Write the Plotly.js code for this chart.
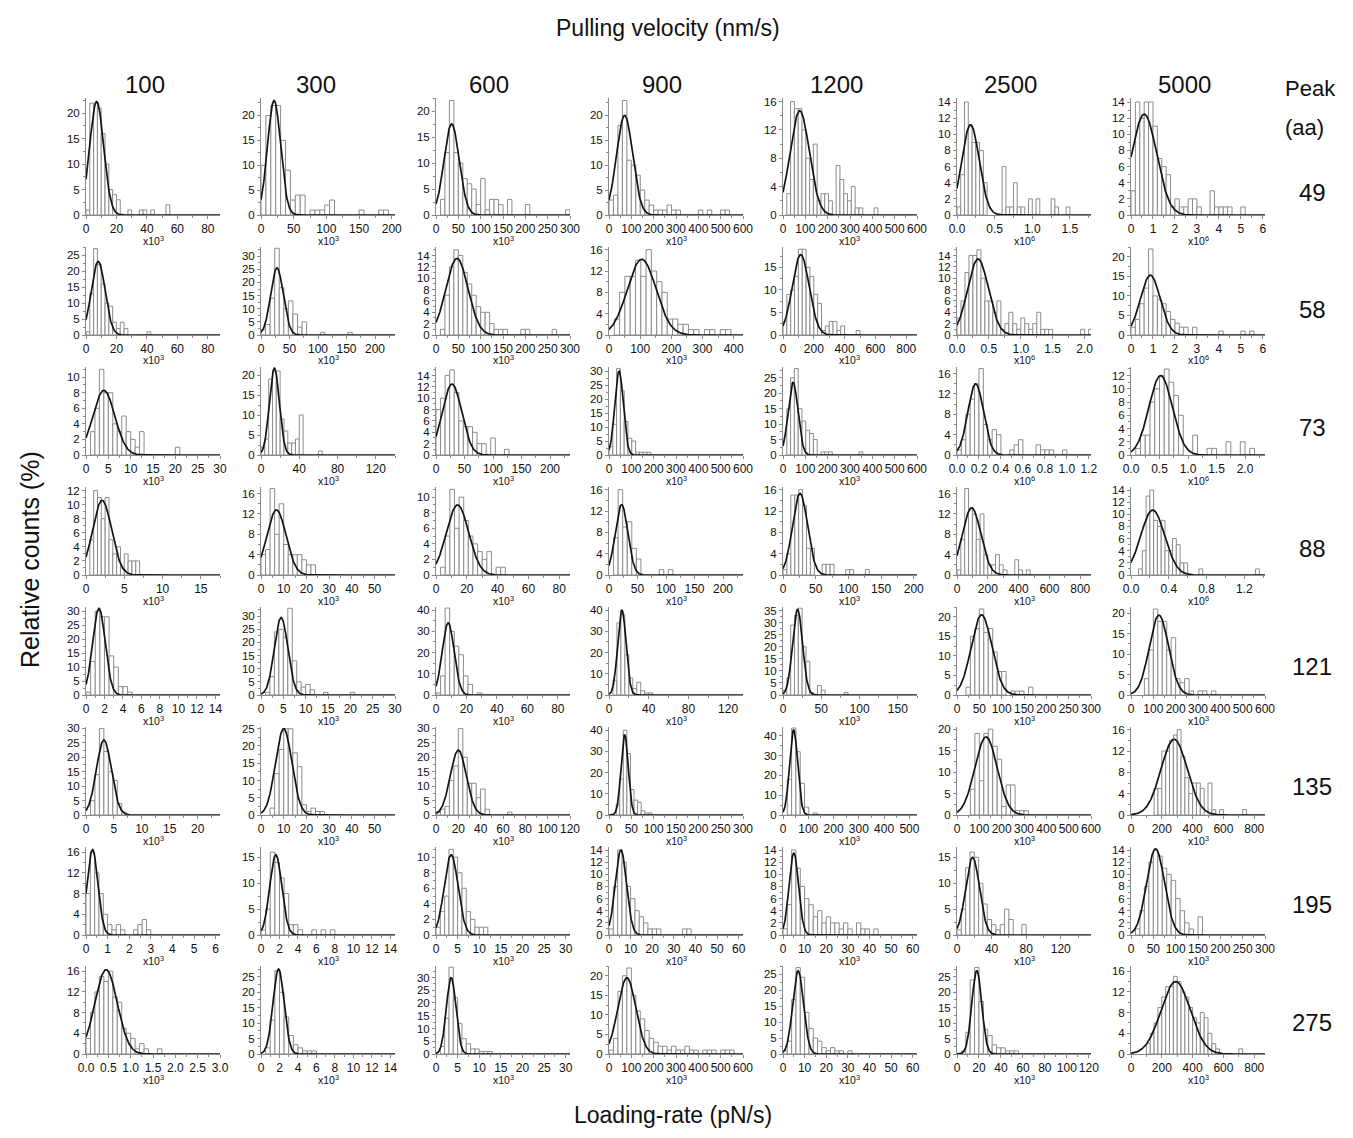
<!DOCTYPE html>
<html><head><meta charset="utf-8">
<script src="https://cdn.plot.ly/plotly-3.0.1.min.js"></script>
<style>html,body{margin:0;padding:0;background:#fff}#chart{width:1353px;height:1138px}</style>
</head><body><div id="chart"></div>
<script>
// ---------------- DATA ----------------
const velocities = ['100','300','600','900','1200','2500','5000'];
const peaks = ['49','58','73','88','121','135','195','275'];

// Histogram counts (relative counts %), bins start at 0, one array per panel, rows = peaks
const counts49 = [
  [1,22,22,21,16,10,5,4,3,0,0,1,0,0,1,1,0,1,0,0,0,2],
  [10,20,22,22,15,9,3,4,4,0,1,1,1,2,3,0,0,0,0,0,1,0,0,0,1,1],
  [0,3,12,22,12,10,7,6,5,2,7,1,3,3,2,0,3,0,0,0,2,0,0,0,0,0,0,0,0,1],
  [3,4,18,23,11,10,8,5,3,2,1,1,1,2,1,1,0,0,0,0,1,0,1,0,0,1,1],
  [0,3,16,15,15,12,8,5,10,2,3,3,2,0,7,5,3,2,4,1,1,0,0,0,1],
  [1,5,14,11,9,9,8,4,0,0,0,0,6,1,1,4,1,1,0,2,0,2,0,0,0,2,1,0,0,1],
  [3,14,12,14,14,11,7,6,5,1,2,1,1,2,2,1,0,0,3,1,1,1,1,0,0,1]
];
const counts58 = [
  [1,13,27,22,16,10,9,4,2,4,2,0,0,0,0,0,1],
  [2,4,14,33,18,10,13,8,3,5,0,0,0,1,0,0,0,0,0,1],
  [0,1,7,12,15,14,11,9,7,5,4,4,2,1,1,1,0,0,0,1,1,0,0,0,0,0,1],
  [0,3,8,11,11,14,11,16,12,10,8,3,3,2,2,1,1,0,1,1,0,1,1],
  [3,9,10,13,19,19,15,13,9,7,1,2,3,3,1,2,0,0,0,1],
  [3,6,11,14,14,15,10,6,6,4,6,1,2,4,2,1,3,2,1,2,4,1,1,1,0,0,0,0,0,0,0,1,0,1],
  [2,4,8,12,22,10,9,8,6,4,3,2,2,0,2,0,0,0,0,0,1,0,0,0,0,1,0,1]
];
const counts73 = [
  [0,3,6,11,8,8,4,3,5,3,2,1,3,0,0,0,0,0,0,0,1],
  [2,4,19,21,21,9,6,3,3,4,10,0,0,0,0,1],
  [8,10,14,15,11,6,5,5,4,2,2,0,3,0,0,1],
  [3,11,31,23,12,6,5,1,1,1,1],
  [0,15,25,28,15,11,8,7,5,0,1,1,1,0,0,0,0,0,0,0,1],
  [1,3,8,11,14,17,6,3,5,4,0,0,1,2,3,0,0,0,2,1,1,1,0,0,1],
  [0,1,3,3,8,10,12,13,11,9,6,0,0,3,0,0,1,1,0,0,2,0,0,2,0,1]
];
const counts88 = [
  [0,5,12,11,8,11,5,3,4,1,3,2,2,2],
  [4,5,17,8,14,6,4,4,4,3,2,2],
  [0,1,5,11,6,10,7,5,4,3,2,3,0,1,1],
  [0,7,16,9,10,5,3,0,0,0,0,1,0,1],
  [1,4,15,15,16,13,5,5,0,0,2,2,2,0,0,0,1,1,0,0,0,1],
  [1,7,17,13,12,7,12,4,2,2,4,2,1,0,0,3,1,0,1],
  [0,0,1,4,13,14,9,8,9,4,4,6,5,2,2,0,0,0,1,0,0,0,0,0,0,0,0,0,0,0,0,0,0,1]
];
const counts121 = [
  [1,12,30,28,28,14,10,3,3,1],
  [0,1,7,24,25,22,33,13,5,3,4,2,0,0,1,0,0,0,0,0,1],
  [1,9,41,30,23,19,9,5,0,1],
  [0,7,34,38,19,8,3,6,2,1,1],
  [2,7,29,33,36,20,14,1,0,4,2,0,0,0,0,0,1],
  [0,0,2,15,17,22,16,17,11,6,6,0,1,1,1,0,2],
  [0,0,0,4,11,21,18,18,11,14,4,3,4,1,0,1,1,0,1]
];
const counts135 = [
  [0,5,14,30,22,15,12,4,1],
  [0,0,2,12,19,25,25,18,14,3,1,2,1,1],
  [1,2,3,12,17,30,20,11,11,6,9,2,0,0,0,0,1],
  [0,0,5,17,40,29,12,7,6,2,1,1],
  [0,18,44,32,16,4,0,1],
  [0,0,0,6,19,8,19,20,16,13,2,7,7,1,1,1],
  [0,0,0,0,0,0,5,5,12,12,14,15,16,11,7,4,6,6,5,0,6,1,0,1,0,0,0,0,0,1]
];
const counts195 = [
  [8,16,12,8,4,2,1,2,1,0,0,1,2,3,1],
  [1,5,16,14,11,8,2,2,1,0,0,1,0,1,0,1],
  [1,3,5,11,10,8,6,3,2,1,1,1],
  [1,8,14,12,8,6,4,3,2,1,1,1,0,0,0,0,0,1,1],
  [1,5,14,11,8,6,5,3,4,2,3,2,2,1,2,1,0,2,1,1,0,1],
  [1,5,13,16,15,10,6,3,2,1,2,5,3,0,0,2],
  [0,1,4,8,12,14,13,11,10,9,6,4,2,1,0,3]
];
const counts275 = [
  [3,8,12,15,14,16,11,10,5,4,3,1,2,1,0,0,1],
  [0,2,11,27,20,12,6,3,2,1,1,1],
  [0,3,14,34,22,12,6,4,2,2,1,1,1],
  [1,4,16,20,22,15,11,9,6,4,3,2,2,1,2,1,1,2,1,1,0,1,1,1,0,1,1,1],
  [1,4,17,27,24,13,8,5,4,2,1,2,1,1,0,1],
  [0,1,7,24,28,17,8,6,3,2,2,1,1,1],
  [0,0,0,0,2,4,6,9,11,13,13,15,14,12,11,9,7,6,8,7,4,2,1,0,0,0,0,0,1]
];
const allCounts = [counts49, counts58, counts73, counts88, counts121, counts135, counts195, counts275];

// Bin widths (in axis units)
const binWidth = [
  [2.5, 7.5, 10, 20, 17, 0.05, 0.2],
  [2.5, 8, 10, 17, 25, 0.0625, 0.2],
  [1, 4, 8, 17, 17, 0.04, 0.08333],
  [0.5, 2, 3, 8, 6, 25, 0.04],
  [0.5, 1, 3, 4, 5, 10, 20],
  [0.8, 2, 4, 8, 17, 20, 25],
  [0.2, 0.5, 1, 2, 2, 5, 10],
  [0.1, 0.5, 1, 20, 2, 4, 25]
];
// Axis extents and tick steps
const xMax = [
  [88, 205, 300, 600, 600, 1.78, 6.1],
  [88, 235, 300, 430, 870, 2.1, 6.1],
  [30, 140, 235, 600, 600, 1.22, 2.35],
  [17.5, 59, 87, 235, 205, 870, 1.42],
  [14.5, 30, 88, 135, 175, 300, 600],
  [24, 59, 120, 300, 530, 600, 870],
  [6.2, 14.5, 31, 62, 62, 155, 300],
  [3.0, 14.5, 31, 600, 62, 122, 870]
];
const xStep = [
  [20, 50, 50, 100, 100, 0.5, 1],
  [20, 50, 50, 100, 200, 0.5, 1],
  [5, 40, 50, 100, 100, 0.2, 0.5],
  [5, 10, 20, 50, 50, 200, 0.4],
  [2, 5, 20, 40, 50, 50, 100],
  [5, 10, 20, 50, 100, 100, 200],
  [1, 2, 5, 10, 10, 40, 50],
  [0.5, 2, 5, 100, 10, 20, 200]
];
const yMax = [
  [23, 23.5, 22.5, 23.5, 16.5, 14.5, 14.5],
  [27.5, 33.5, 15.5, 16.5, 19.5, 15.5, 22.5],
  [11.3, 22, 15.5, 31.5, 28.5, 17.3, 13.3],
  [12.5, 17.3, 11.3, 16.5, 16.5, 17.3, 14.5],
  [31.5, 33.5, 41.5, 41.5, 36.5, 22.5, 21.5],
  [30.5, 25.5, 30.5, 41.5, 44.5, 20.5, 16.5],
  [17, 17, 11.3, 14.5, 14.5, 17, 14.5],
  [17, 28.5, 34.5, 22.5, 27.5, 28.5, 17]
];
const yStep = [
  [5, 5, 5, 5, 4, 2, 2],
  [5, 5, 2, 4, 5, 2, 5],
  [2, 5, 2, 5, 5, 4, 2],
  [2, 4, 2, 4, 4, 4, 2],
  [5, 5, 10, 10, 5, 5, 5],
  [5, 5, 5, 10, 10, 5, 4],
  [4, 5, 2, 2, 2, 5, 2],
  [4, 5, 5, 5, 5, 5, 4]
];
// Scale exponent of loading-rate axis (x10^n)
const unitExp = [
  [3, 3, 3, 3, 3, 6, 6],
  [3, 3, 3, 3, 3, 6, 6],
  [3, 3, 3, 3, 3, 6, 6],
  [3, 3, 3, 3, 3, 3, 6],
  [3, 3, 3, 3, 3, 3, 3],
  [3, 3, 3, 3, 3, 3, 3],
  [3, 3, 3, 3, 3, 3, 3],
  [3, 3, 3, 3, 3, 3, 3]
];
// Gaussian fit parameters: amplitude, mean, sigma
const fitAmp = [
  [22.3, 23, 17.5, 20, 14.7, 11.2, 12.5],
  [23, 25.5, 13.5, 14.2, 17.8, 13.4, 15.3],
  [8.3, 21.7, 12.5, 30, 23.5, 14, 12],
  [10.6, 12.8, 9, 13.2, 15.3, 13.2, 10.7],
  [31, 29.5, 34, 40, 35.5, 20.5, 19.5],
  [26, 25, 22.5, 38, 43, 18.2, 14.2],
  [16.5, 15.5, 10.3, 14, 13.5, 15, 14.2],
  [16.3, 27.5, 30, 19.5, 26, 27, 14]
];
const fitMean = [
  [7, 20, 35, 70, 75, 0.18, 0.6],
  [8, 28, 47, 105, 115, 0.33, 0.88],
  [4, 14, 28, 45, 45, 0.17, 0.52],
  [2.1, 6.8, 14, 22, 26, 95, 0.23],
  [1.4, 4.5, 8, 13, 19, 55, 125],
  [3.2, 10, 20, 35, 42, 130, 280],
  [0.3, 1.6, 3.5, 5.5, 5, 18, 55],
  [0.45, 1.9, 3.5, 80, 7, 18, 290]
];
const fitSigma = [
  [4.6, 10, 17, 36, 43, 0.115, 0.57],
  [4.5, 11, 24.7, 46, 55, 0.163, 0.45],
  [2.45, 5.2, 17, 19, 22, 0.071, 0.205],
  [1.24, 4.2, 7.25, 11, 11.5, 60, 0.127],
  [0.68, 1.5, 3.9, 4.2, 6.5, 23, 43],
  [1.34, 3.6, 7.2, 8, 16, 50, 85],
  [0.25, 0.65, 1.6, 2.6, 2.2, 8, 20],
  [0.25, 0.6, 1.1, 40, 2.5, 4.5, 95]
];

// ---------------- LAYOUT GEOMETRY ----------------
const W = 1353, H = 1138;
const colLeft = [86, 261, 436, 609, 783, 957, 1131];
const plotW = 134;
const rowBase = [215, 335, 455, 575, 695, 815, 935, 1054];
const rowTop  = [98, 247, 367, 487, 607, 727, 847, 966];
const FONT = 'Liberation Sans, Arial, Helvetica, sans-serif';
const AX = '#8a8a8a';

const traces = [];
const layout = {
  width: W, height: H,
  margin: {l: 0, r: 0, t: 0, b: 0},
  paper_bgcolor: '#fff', plot_bgcolor: '#fff',
  showlegend: false,
  barmode: 'overlay', bargap: 0,
  font: {family: FONT, color: '#111'},
  annotations: []
};

for (let r = 0; r < 8; r++) {
  for (let c = 0; c < 7; c++) {
    const n = r * 7 + c + 1;
    const xa = n === 1 ? 'x' : 'x' + n;
    const ya = n === 1 ? 'y' : 'y' + n;
    const bw = binWidth[r][c];
    const cnt = allCounts[r][c];
    const bx = [], by = [];
    cnt.forEach((v, i) => { if (v > 0) { bx.push((i + 0.5) * bw); by.push(v); } });
    traces.push({
      type: 'bar', x: bx, y: by, width: bw, xaxis: xa, yaxis: ya,
      marker: {color: '#ffffff', line: {color: '#8c8c8c', width: 1}},
      hoverinfo: 'skip'
    });
    const xm = xMax[r][c];
    const gx = [], gy = [];
    const A = fitAmp[r][c], mu = fitMean[r][c], s = fitSigma[r][c];
    const N = 300;
    for (let k = 0; k <= N; k++) {
      const x = xm * k / N;
      gx.push(x);
      gy.push(A * Math.exp(-((x - mu) * (x - mu)) / (2 * s * s)));
    }
    traces.push({
      type: 'scatter', mode: 'lines', x: gx, y: gy, xaxis: xa, yaxis: ya,
      line: {color: '#141414', width: 1.7}, cliponaxis: false, hoverinfo: 'skip'
    });

    const L = colLeft[c], B = rowBase[r], T = rowTop[r];
    const xd = xStep[r][c], yd = yStep[r][c];
    const xKey = n === 1 ? 'xaxis' : 'xaxis' + n;
    const yKey = n === 1 ? 'yaxis' : 'yaxis' + n;
    layout[xKey] = {
      domain: [L / W, (L + plotW) / W], anchor: ya,
      range: [0, xm], showgrid: false, zeroline: false,
      showline: true, linecolor: AX, linewidth: 1,
      ticks: 'outside', ticklen: 3, tickcolor: AX, tickwidth: 1,
      tickmode: 'linear', tick0: 0, dtick: xd,
      tickformat: xd < 1 ? '.1f' : 'd', tickangle: 0,
      tickfont: {family: FONT, size: 12, color: '#111'},
      minor: {ticks: 'outside', ticklen: 2, tickcolor: AX, dtick: xd / 2, tick0: 0, showgrid: false},
      fixedrange: true
    };
    layout[yKey] = {
      domain: [1 - B / H, 1 - T / H], anchor: xa,
      range: [0, yMax[r][c]], showgrid: false, zeroline: false,
      showline: true, linecolor: AX, linewidth: 1,
      ticks: 'outside', ticklen: 3, tickcolor: AX, tickwidth: 1,
      tickmode: 'linear', tick0: 0, dtick: yd,
      tickfont: {family: FONT, size: 11.5, color: '#111'},
      minor: {ticks: 'outside', ticklen: 2, tickcolor: AX, dtick: yd / 2, tick0: 0, showgrid: false},
      fixedrange: true
    };
    layout.annotations.push({
      xref: 'paper', yref: 'paper', x: (L + plotW / 2) / W, y: 1 - (B + 25) / H,
      xanchor: 'center', yanchor: 'middle', showarrow: false,
      text: 'x10<sup>' + unitExp[r][c] + '</sup>', font: {family: FONT, size: 10.5, color: '#111'}
    });
  }
}

// Column headers (pulling velocities)
const headerX = [145, 316, 489, 662, 836, 1010, 1184];
velocities.forEach((v, i) => {
  layout.annotations.push({xref: 'paper', yref: 'paper', x: headerX[i] / W, y: 1 - 85 / H,
    xanchor: 'center', yanchor: 'middle', showarrow: false, text: v,
    font: {family: FONT, size: 24, color: '#111'}});
});
// Peak labels
const peakY = [192, 310, 428, 548, 666, 786, 904, 1022];
peaks.forEach((p, i) => {
  layout.annotations.push({xref: 'paper', yref: 'paper', x: 1312 / W, y: 1 - peakY[i] / H,
    xanchor: 'center', yanchor: 'middle', showarrow: false, text: p,
    font: {family: FONT, size: 24, color: '#111'}});
});
layout.annotations.push({xref: 'paper', yref: 'paper', x: 1283 / W, y: 1 - 88 / H,
  xanchor: 'left', yanchor: 'middle', showarrow: false, text: 'Peak',
  font: {family: FONT, size: 22, color: '#111'}});
layout.annotations.push({xref: 'paper', yref: 'paper', x: 1283 / W, y: 1 - 127 / H,
  xanchor: 'left', yanchor: 'middle', showarrow: false, text: '(aa)',
  font: {family: FONT, size: 22, color: '#111'}});
// Global titles
layout.annotations.push({xref: 'paper', yref: 'paper', x: 668 / W, y: 1 - 28 / H,
  xanchor: 'center', yanchor: 'middle', showarrow: false, text: 'Pulling velocity (nm/s)',
  font: {family: FONT, size: 23, color: '#111'}});
layout.annotations.push({xref: 'paper', yref: 'paper', x: 673 / W, y: 1 - 1115 / H,
  xanchor: 'center', yanchor: 'middle', showarrow: false, text: 'Loading-rate (pN/s)',
  font: {family: FONT, size: 23, color: '#111'}});
layout.annotations.push({xref: 'paper', yref: 'paper', x: 30 / W, y: 1 - 560 / H,
  xanchor: 'center', yanchor: 'middle', showarrow: false, text: 'Relative counts (%)', textangle: -90,
  font: {family: FONT, size: 25, color: '#111'}});

Plotly.newPlot('chart', traces, layout, {staticPlot: true, displayModeBar: false});
</script>
</body></html>
